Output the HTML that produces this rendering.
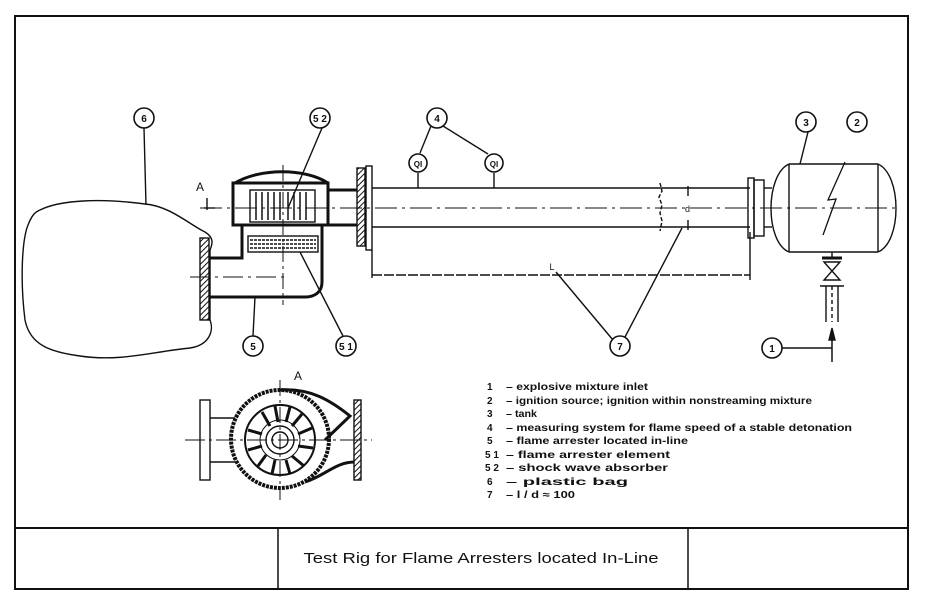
<!DOCTYPE html>
<html><head><meta charset="utf-8"><style>
html,body{margin:0;padding:0;background:#fff;}
svg{display:block;}
text{font-family:"Liberation Sans",sans-serif;fill:#111;}
</style></head><body>
<svg width="927" height="603" viewBox="0 0 927 603" xmlns="http://www.w3.org/2000/svg">
<defs>
<pattern id="h" width="4" height="4" patternUnits="userSpaceOnUse" patternTransform="rotate(45)"><rect width="4" height="4" fill="#fff"/><line x1="0" y1="0" x2="0" y2="4" stroke="#111" stroke-width="2"/></pattern>
</defs>
<g fill="none" stroke="#111" stroke-width="1.4">
<rect x="15" y="16" width="893" height="573" stroke-width="2"/>
<line x1="15" y1="528" x2="908" y2="528" stroke-width="2"/>
<line x1="278" y1="528" x2="278" y2="589" stroke-width="1.5"/>
<line x1="688" y1="528" x2="688" y2="589" stroke-width="1.5"/>

<path d="M40 210 C60 200,100 198,145 204 C170 206,190 225,205 232 C215 238,212 245,210 250 L210 320 C214 330,210 345,190 348 C150 352,120 362,80 356 C50 352,30 345,25 320 C20 280,22 240,28 225 C32 215,35 212,40 210 Z"/>

<line x1="372" y1="188" x2="750" y2="188"/>
<line x1="372" y1="227" x2="750" y2="227"/>
<rect x="366" y="166" width="6" height="84"/>
<rect x="357" y="168" width="8" height="78" fill="url(#h)"/>
<rect x="748" y="178" width="6" height="60"/>
<rect x="754" y="180" width="10" height="56"/>
<line x1="764" y1="188" x2="772" y2="188"/><line x1="764" y1="227" x2="772" y2="227"/>
<path d="M660 183 l2 8 l-3 6 l3 8 l-2 8 l2 8 l-2 10" stroke-dasharray="4 2"/>
<line x1="688" y1="186" x2="688" y2="196"/><line x1="688" y1="220" x2="688" y2="230"/>
<text x="685" y="212" font-size="9" stroke="none">d</text>
<line x1="200" y1="208" x2="900" y2="208" stroke-width="1" stroke-dasharray="22 5 3 5"/>

<line x1="789" y1="164" x2="878" y2="164"/>
<line x1="789" y1="252" x2="878" y2="252"/>
<line x1="789" y1="164" x2="789" y2="252"/>
<line x1="878" y1="164" x2="878" y2="252"/>
<path d="M789 164 C765 175,765 242,789 252"/>
<path d="M878 164 C902 175,902 242,878 252"/>
<path d="M845 162 L828 200 L836 199 L823 235" stroke-width="1.3"/>
<line x1="822" y1="258" x2="842" y2="258" stroke-width="3"/>
<line x1="832" y1="252" x2="832" y2="258"/>
<path d="M824 262 L840 280 L824 280 L840 262 Z"/>
<line x1="820" y1="286" x2="844" y2="286"/>
<line x1="826" y1="286" x2="826" y2="322"/><line x1="838" y1="286" x2="838" y2="322"/>
<line x1="832" y1="286" x2="832" y2="322" stroke-dasharray="4 3"/>
<line x1="832" y1="362" x2="832" y2="332" stroke-width="1.5"/>
<path d="M829 340 L832 328 L835 340 Z" fill="#111"/>
<line x1="782" y1="348" x2="832" y2="348"/>

<line x1="372" y1="275" x2="750" y2="275" stroke-dasharray="10 2"/>
<line x1="750" y1="232" x2="750" y2="280"/>
<line x1="372" y1="250" x2="372" y2="278"/>

<path d="M235 183 C260 168,305 168,328 183" stroke-width="3"/>
<rect x="233" y="183" width="95" height="42" stroke-width="3"/>
<rect x="250" y="190" width="65" height="32"/>
<g stroke-width="1.5">
<line x1="256" y1="192" x2="256" y2="220"/><line x1="262" y1="192" x2="262" y2="220"/><line x1="268" y1="192" x2="268" y2="220"/><line x1="274" y1="192" x2="274" y2="220"/><line x1="280" y1="192" x2="280" y2="220"/><line x1="288" y1="192" x2="288" y2="220"/><line x1="294" y1="192" x2="294" y2="220"/><line x1="300" y1="192" x2="300" y2="220"/><line x1="306" y1="192" x2="306" y2="220"/></g>
<path d="M242 225 L242 258 L200 258" stroke-width="3"/>
<path d="M322 225 L322 282 C322 292,315 297,305 297 L210 297" stroke-width="3"/>
<rect x="248" y="236" width="70" height="16"/>
<line x1="250" y1="240" x2="316" y2="240" stroke-dasharray="3 1"/><line x1="250" y1="244" x2="316" y2="244" stroke-dasharray="3 1"/><line x1="250" y1="248" x2="316" y2="248" stroke-dasharray="3 1"/>
<rect x="200" y="238" width="9" height="82" fill="url(#h)"/>
<line x1="328" y1="190" x2="357" y2="190" stroke-width="3"/>
<line x1="328" y1="225" x2="357" y2="225" stroke-width="3"/>
<line x1="190" y1="277" x2="285" y2="277" stroke-width="1" stroke-dasharray="20 5 3 5"/>
<line x1="283" y1="165" x2="283" y2="305" stroke-width="1" stroke-dasharray="16 4 3 4"/>
<text x="196" y="191" font-size="12" stroke="none">A</text>
<line x1="207" y1="198" x2="207" y2="210"/><line x1="204" y1="208" x2="215" y2="208"/>

<rect x="200" y="400" width="10" height="80"/>
<line x1="210" y1="418" x2="235" y2="418"/><line x1="210" y1="462" x2="235" y2="462"/>
<circle cx="280" cy="439" r="49" stroke-width="4" stroke-dasharray="3 1"/>
<circle cx="280" cy="440" r="35" stroke-width="2"/>
<circle cx="280" cy="440" r="20" stroke-width="1"/><circle cx="280" cy="440" r="14"/><circle cx="280" cy="440" r="8"/>
<g stroke-width="3">
<line x1="262" y1="412" x2="270" y2="426"/><line x1="275" y1="406" x2="278" y2="422"/><line x1="290" y1="407" x2="286" y2="422"/><line x1="302" y1="414" x2="292" y2="426"/><line x1="312" y1="428" x2="298" y2="434"/><line x1="313" y1="448" x2="298" y2="446"/><line x1="304" y1="466" x2="292" y2="456"/><line x1="290" y1="474" x2="286" y2="460"/><line x1="272" y1="474" x2="275" y2="460"/><line x1="258" y1="466" x2="266" y2="455"/><line x1="248" y1="450" x2="262" y2="446"/><line x1="248" y1="430" x2="262" y2="434"/></g>
<path d="M280 390 C310 388,330 400,350 416 L325 440" stroke-width="3"/>
<path d="M305 482 C325 476,335 462,355 462" stroke-width="3"/>
<rect x="354" y="400" width="7" height="80" fill="url(#h)"/>
<line x1="185" y1="440" x2="372" y2="440" stroke-width="1" stroke-dasharray="20 4 3 4"/>
<line x1="280" y1="380" x2="280" y2="500" stroke-width="1" stroke-dasharray="16 4 3 4"/>
<text x="294" y="380" font-size="12" stroke="none">A</text>

<line x1="144" y1="128" x2="146" y2="205"/>
<line x1="322" y1="128" x2="288" y2="208"/>
<line x1="253" y1="336" x2="255" y2="297"/>
<line x1="343" y1="336" x2="300" y2="252"/>
<line x1="431" y1="126" x2="420" y2="153"/>
<line x1="443" y1="126" x2="488" y2="154"/>
<line x1="418" y1="173" x2="418" y2="188"/>
<line x1="494" y1="173" x2="494" y2="188"/>
<line x1="613" y1="340" x2="556" y2="272"/>
<line x1="625" y1="337" x2="682" y2="228"/>
<line x1="808" y1="132" x2="800" y2="164"/>
</g>
<g fill="#fff" stroke="#111" stroke-width="1.6">
<circle cx="144" cy="118" r="10"/><circle cx="320" cy="118" r="10"/><circle cx="437" cy="118" r="10"/>
<circle cx="418" cy="163" r="9"/><circle cx="494" cy="163" r="9"/>
<circle cx="806" cy="122" r="10"/><circle cx="857" cy="122" r="10"/>
<circle cx="253" cy="346" r="10"/><circle cx="346" cy="346" r="10"/>
<circle cx="620" cy="346" r="10"/><circle cx="772" cy="348" r="10"/>
</g>
<g font-size="10" font-weight="bold" text-anchor="middle">
<text x="144" y="122">6</text><text x="320" y="122">5 2</text><text x="437" y="122">4</text>
<text x="418" y="167" font-size="8">QI</text><text x="494" y="167" font-size="8">QI</text>
<text x="806" y="126">3</text><text x="857" y="126">2</text>
<text x="253" y="350">5</text><text x="346" y="350">5 1</text>
<text x="620" y="350">7</text><text x="772" y="352">1</text>
<text x="552" y="270" font-weight="normal" font-size="9">L</text>
</g>
<g font-size="10" font-weight="bold">
<text x="487" y="390">1</text><text x="506" y="390" textLength="142" lengthAdjust="spacingAndGlyphs">– explosive mixture inlet</text>
<text x="487" y="404">2</text><text x="506" y="404" textLength="306" lengthAdjust="spacingAndGlyphs">– ignition source; ignition within nonstreaming mixture</text>
<text x="487" y="417">3</text><text x="506" y="417" textLength="31" lengthAdjust="spacingAndGlyphs">– tank</text>
<text x="487" y="431">4</text><text x="506" y="431" textLength="346" lengthAdjust="spacingAndGlyphs">– measuring system for flame speed of a  stable detonation</text>
<text x="487" y="444">5</text><text x="506" y="444" textLength="182" lengthAdjust="spacingAndGlyphs">– flame arrester located in-line</text>
<text x="485" y="458">5 1</text><text x="506" y="458" textLength="164" lengthAdjust="spacingAndGlyphs">– flame arrester element</text>
<text x="485" y="471">5 2</text><text x="506" y="471" textLength="162" lengthAdjust="spacingAndGlyphs">– shock wave absorber</text>
<text x="487" y="485">6</text><text x="506" y="485" textLength="122" lengthAdjust="spacingAndGlyphs">– plastic  bag</text>
<text x="487" y="498">7</text><text x="506" y="498" textLength="69" lengthAdjust="spacingAndGlyphs">– l / d ≈  100</text>
</g>
<text x="481" y="563" font-size="15" text-anchor="middle" textLength="355" lengthAdjust="spacingAndGlyphs">Test Rig for Flame Arresters located In-Line</text>
</svg>
</body></html>
